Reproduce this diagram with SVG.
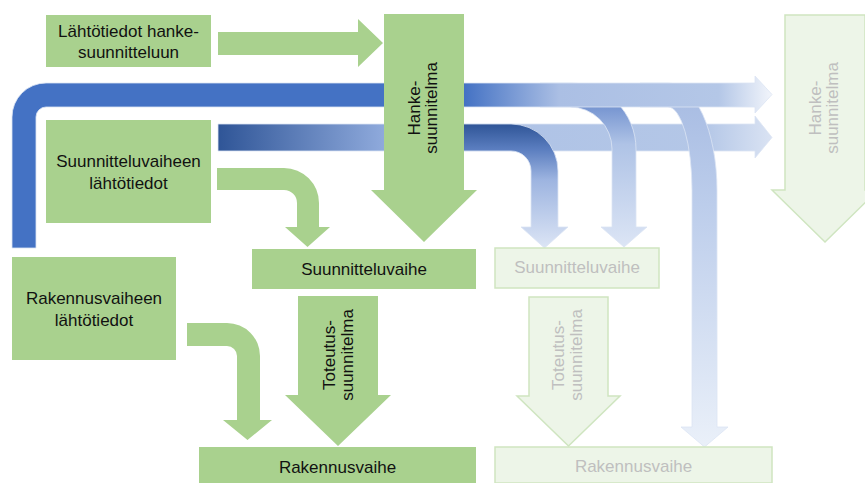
<svg xmlns="http://www.w3.org/2000/svg" width="865" height="483" viewBox="0 0 865 483">
  <style>
    .g { fill: #A9D18E; }
    .f { fill: #EDF5E8; stroke: #CFE5C0; stroke-width: 1.5; }
    .t { font-family: "Liberation Sans", Arial, sans-serif; font-size: 17px; fill: #111111; text-anchor: middle; }
    .ft { font-family: "Liberation Sans", Arial, sans-serif; font-size: 17px; fill: #BFBFBF; text-anchor: middle; }
    .b { stroke: #DCE4F4; stroke-width: 0.8; }
  </style>
  <defs>
    <linearGradient id="gBar1" gradientUnits="userSpaceOnUse" x1="12" y1="0" x2="772" y2="0">
      <stop offset="0" stop-color="#4472C4"/>
      <stop offset="0.595" stop-color="#4472C4"/>
      <stop offset="0.72" stop-color="#ABBFE4"/>
      <stop offset="0.93" stop-color="#B4C7E7"/>
      <stop offset="1" stop-color="#F2F5FB"/>
    </linearGradient>
    <linearGradient id="gBar2" gradientUnits="userSpaceOnUse" x1="218" y1="0" x2="772" y2="0">
      <stop offset="0" stop-color="#2F5597"/>
      <stop offset="0.3" stop-color="#8FAADC"/>
      <stop offset="0.52" stop-color="#AFC3E6"/>
      <stop offset="0.88" stop-color="#B4C7E7"/>
      <stop offset="1" stop-color="#DAE3F3"/>
    </linearGradient>
    <linearGradient id="gA" gradientUnits="userSpaceOnUse" x1="0" y1="124" x2="0" y2="248">
      <stop offset="0" stop-color="#2F5597"/>
      <stop offset="0.2" stop-color="#5A7DBF"/>
      <stop offset="0.45" stop-color="#9DB4E0"/>
      <stop offset="1" stop-color="#DCE5F5"/>
    </linearGradient>
    <linearGradient id="gB" gradientUnits="userSpaceOnUse" x1="0" y1="100" x2="0" y2="247">
      <stop offset="0" stop-color="#6D8DCD"/>
      <stop offset="0.3" stop-color="#AFC3E6"/>
      <stop offset="1" stop-color="#DCE5F5"/>
    </linearGradient>
    <linearGradient id="gC" gradientUnits="userSpaceOnUse" x1="0" y1="100" x2="0" y2="447">
      <stop offset="0" stop-color="#A9BDE3"/>
      <stop offset="0.3" stop-color="#BCCDEB"/>
      <stop offset="1" stop-color="#EAF0F9"/>
    </linearGradient>
  </defs>

  <g id="connectors">
    <path id="bar2" class="b" fill="url(#gBar2)" d="M218,124 H755 V116 L772,137.5 L755,158 V151 H218 Z"/>
    <path id="branchA" class="b" fill="url(#gA)" d="M463,124 H511 A47,47 0 0 1 558,171 V227 H568 L544.5,248 L521,227 H531 V171 A20,20 0 0 0 511,151 H463 Z"/>
    <path id="branchB" class="b" fill="url(#gB)" d="M540,83 H570 A66,66 0 0 1 636,149 V227 H647 L624,247 L601,227 H612 V149 A42,42 0 0 0 570,107 H540 Z"/>
    <path id="branchC" class="b" fill="url(#gC)" d="M640,83 H668 A49,107 0 0 1 717,190 V427 H728 L704.5,447 L681,427 H692 V190 A24,83 0 0 0 668,107 H640 Z"/>
    <path id="bar1" class="b" fill="url(#gBar1)" d="M12,248 V117 A34,34 0 0 1 46,83 H755 V76 L772,94.5 L755,113 V107 H46 A10,10 0 0 0 36,117 V248 Z"/>
    <path id="arrowIn1" class="g" d="M218,32 H358 V19 L383,43 L358,67 V55 H218 Z"/>
    <path id="arrowIn2" class="g" d="M217,168 H284 A35,35 0 0 1 319,203 V227 H330 L307.5,247 L285,227 H297 V203 A13,13 0 0 0 284,190 H217 Z"/>
    <path id="arrowIn3" class="g" d="M187,323 H227 A33,33 0 0 1 260,356 V420 H272 L247.5,440 L223,420 H237 V356 A10,10 0 0 0 227,346 H187 Z"/>
  </g>

  <g id="lahtotiedot-hanke">
    <rect class="g" x="46" y="15" width="165" height="52"/>
    <text class="t" x="128.5" y="37">Lähtötiedot hanke-</text>
    <text class="t" x="128.5" y="58">suunnitteluun</text>
  </g>
  <g id="hankesuunnitelma">
    <path class="g" d="M384,14 H464 V190 H477 L424,242 L371,190 H384 Z"/>
    <g transform="translate(420,108) rotate(-90)">
      <text class="t" x="0" y="0">Hanke-</text>
      <text class="t" x="0" y="17">suunnitelma</text>
    </g>
  </g>
  <g id="suunnitteluvaiheen-lahtotiedot">
    <rect class="g" x="46" y="120" width="165" height="103"/>
    <text class="t" x="128.5" y="167">Suunnitteluvaiheen</text>
    <text class="t" x="128.5" y="189">lähtötiedot</text>
  </g>
  <g id="suunnitteluvaihe">
    <rect class="g" x="252" y="249" width="224" height="40"/>
    <text class="t" x="364" y="275">Suunnitteluvaihe</text>
  </g>
  <g id="rakennusvaiheen-lahtotiedot">
    <rect class="g" x="12" y="257" width="164" height="103"/>
    <text class="t" x="94" y="304">Rakennusvaiheen</text>
    <text class="t" x="94" y="326">lähtötiedot</text>
  </g>
  <g id="toteutussuunnitelma">
    <path class="g" d="M298,296 H378 V395 H391 L338,446 L285,395 H298 Z"/>
    <g transform="translate(335,355) rotate(-90)">
      <text class="t" x="0" y="0">Toteutus-</text>
      <text class="t" x="0" y="18">suunnitelma</text>
    </g>
  </g>
  <g id="rakennusvaihe">
    <rect class="g" x="199" y="447" width="277" height="36"/>
    <text class="t" x="337.5" y="473">Rakennusvaihe</text>
  </g>

  <g id="hankesuunnitelma-faded">
    <path class="f" d="M785,15 H865 V190 H878 L825,242 L772,190 H785 Z"/>
    <g transform="translate(821,108) rotate(-90)">
      <text class="ft" x="0" y="0">Hanke-</text>
      <text class="ft" x="0" y="17">suunnitelma</text>
    </g>
  </g>
  <g id="suunnitteluvaihe-faded">
    <rect class="f" x="495" y="248" width="164" height="40"/>
    <text class="ft" x="577" y="273">Suunnitteluvaihe</text>
  </g>
  <g id="toteutussuunnitelma-faded">
    <path class="f" d="M529,297 H608 V396 H620 L568.5,446 L517,396 H529 Z"/>
    <g transform="translate(564,355) rotate(-90)">
      <text class="ft" x="0" y="0">Toteutus-</text>
      <text class="ft" x="0" y="18">suunnitelma</text>
    </g>
  </g>
  <g id="rakennusvaihe-faded">
    <rect class="f" x="495" y="447" width="277" height="36"/>
    <text class="ft" x="633.5" y="472">Rakennusvaihe</text>
  </g>
</svg>
